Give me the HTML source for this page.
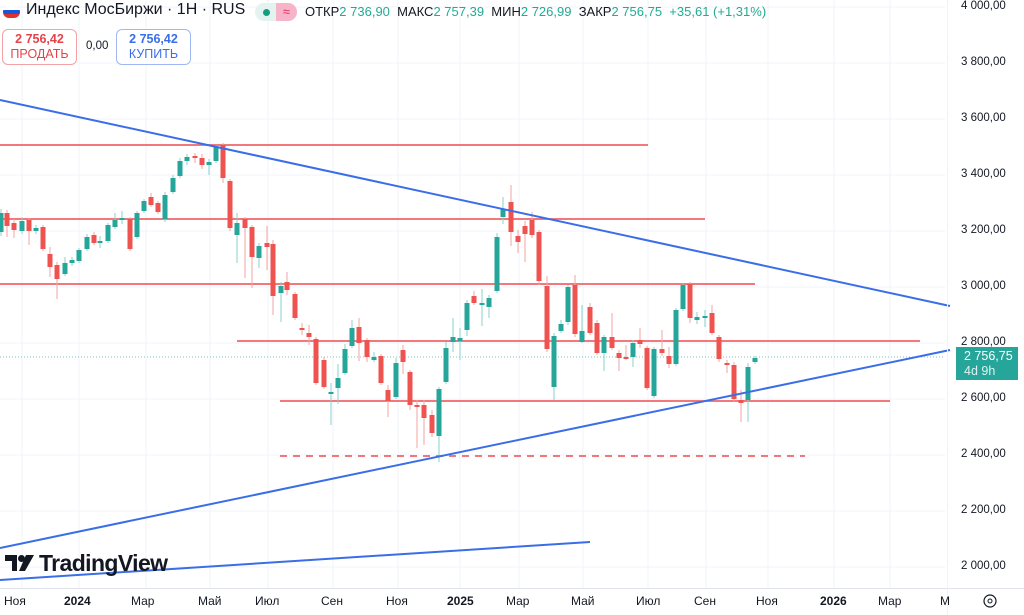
<!DOCTYPE html>
<html><head><meta charset="utf-8"><style>
body{margin:0;width:1024px;height:615px;overflow:hidden;background:#fff;font-family:"Liberation Sans",sans-serif;position:relative}
.ax{position:absolute;font-size:11.5px;color:#131722}
.t{position:absolute;top:594px;font-size:12px;color:#131722}
.b{font-weight:bold}
</style></head><body>
<svg width="1024" height="615" style="position:absolute;left:0;top:0">
<g stroke="#f0f3fa" stroke-width="1">
<line x1="0" y1="7" x2="945" y2="7"/><line x1="0" y1="63" x2="945" y2="63"/><line x1="0" y1="119" x2="945" y2="119"/><line x1="0" y1="175" x2="945" y2="175"/><line x1="0" y1="231" x2="945" y2="231"/><line x1="0" y1="287" x2="945" y2="287"/><line x1="0" y1="343" x2="945" y2="343"/><line x1="0" y1="399" x2="945" y2="399"/><line x1="0" y1="455" x2="945" y2="455"/><line x1="0" y1="511" x2="945" y2="511"/><line x1="0" y1="567" x2="945" y2="567"/>
<line x1="22" y1="0" x2="22" y2="588"/><line x1="79" y1="0" x2="79" y2="588"/><line x1="146" y1="0" x2="146" y2="588"/><line x1="210" y1="0" x2="210" y2="588"/><line x1="268" y1="0" x2="268" y2="588"/><line x1="333" y1="0" x2="333" y2="588"/><line x1="398" y1="0" x2="398" y2="588"/><line x1="460" y1="0" x2="460" y2="588"/><line x1="519" y1="0" x2="519" y2="588"/><line x1="583" y1="0" x2="583" y2="588"/><line x1="648" y1="0" x2="648" y2="588"/><line x1="706" y1="0" x2="706" y2="588"/><line x1="768" y1="0" x2="768" y2="588"/><line x1="834" y1="0" x2="834" y2="588"/><line x1="890" y1="0" x2="890" y2="588"/>
</g>
<line x1="0" y1="357" x2="945" y2="357" stroke="#26a69a" stroke-width="1" stroke-dasharray="1,2" opacity="0.6"/>
<g stroke="#f0646a" stroke-width="1.8">
<line x1="0" y1="145" x2="648" y2="145"/><line x1="0" y1="219" x2="705" y2="219"/><line x1="0" y1="284" x2="755" y2="284"/><line x1="237" y1="341" x2="920" y2="341"/><line x1="280" y1="401" x2="890" y2="401"/><line x1="280" y1="456" x2="805" y2="456" stroke-dasharray="7,6"/>
</g>
<g stroke="#88d1c9" stroke-width="1">
<line x1="1" y1="209" x2="1" y2="236"/><line x1="22" y1="217" x2="22" y2="234"/><line x1="36" y1="225" x2="36" y2="234"/><line x1="65" y1="257" x2="65" y2="276"/><line x1="72" y1="257" x2="72" y2="266"/><line x1="79" y1="248" x2="79" y2="263"/><line x1="87" y1="234" x2="87" y2="251"/><line x1="100" y1="236" x2="100" y2="248"/><line x1="108" y1="223" x2="108" y2="243"/><line x1="115" y1="213" x2="115" y2="229"/><line x1="122" y1="211" x2="122" y2="224"/><line x1="137" y1="211" x2="137" y2="239"/><line x1="144" y1="199" x2="144" y2="213"/><line x1="165" y1="192" x2="165" y2="222"/><line x1="173" y1="175" x2="173" y2="194"/><line x1="180" y1="158" x2="180" y2="178"/><line x1="187" y1="154" x2="187" y2="165"/><line x1="209" y1="159" x2="209" y2="175"/><line x1="216" y1="145" x2="216" y2="163"/><line x1="237" y1="213" x2="237" y2="263"/><line x1="259" y1="243" x2="259" y2="268"/><line x1="281" y1="282" x2="281" y2="322"/><line x1="331" y1="383" x2="331" y2="425"/><line x1="338" y1="364" x2="338" y2="404"/><line x1="345" y1="344" x2="345" y2="375"/><line x1="352" y1="320" x2="352" y2="348"/><line x1="374" y1="352" x2="374" y2="362"/><line x1="396" y1="358" x2="396" y2="399"/><line x1="439" y1="387" x2="439" y2="462"/><line x1="446" y1="342" x2="446" y2="384"/><line x1="453" y1="318" x2="453" y2="352"/><line x1="460" y1="328" x2="460" y2="360"/><line x1="467" y1="300" x2="467" y2="336"/><line x1="482" y1="289" x2="482" y2="326"/><line x1="489" y1="295" x2="489" y2="318"/><line x1="497" y1="233" x2="497" y2="293"/><line x1="503" y1="197" x2="503" y2="224"/><line x1="554" y1="333" x2="554" y2="400"/><line x1="561" y1="320" x2="561" y2="333"/><line x1="568" y1="285" x2="568" y2="325"/><line x1="582" y1="305" x2="582" y2="343"/><line x1="604" y1="335" x2="604" y2="371"/><line x1="633" y1="340" x2="633" y2="367"/><line x1="654" y1="347" x2="654" y2="398"/><line x1="676" y1="308" x2="676" y2="366"/><line x1="683" y1="283" x2="683" y2="311"/><line x1="697" y1="312" x2="697" y2="324"/><line x1="705" y1="310" x2="705" y2="327"/><line x1="748" y1="363" x2="748" y2="422"/><line x1="755" y1="356" x2="755" y2="364"/>
</g>
<g stroke="#f5a3a3" stroke-width="1">
<line x1="7" y1="210" x2="7" y2="237"/><line x1="14" y1="219" x2="14" y2="238"/><line x1="29" y1="218" x2="29" y2="245"/><line x1="43" y1="225" x2="43" y2="251"/><line x1="50" y1="247" x2="50" y2="277"/><line x1="57" y1="262" x2="57" y2="299"/><line x1="94" y1="232" x2="94" y2="245"/><line x1="130" y1="217" x2="130" y2="251"/><line x1="151" y1="193" x2="151" y2="207"/><line x1="158" y1="201" x2="158" y2="214"/><line x1="195" y1="153" x2="195" y2="163"/><line x1="202" y1="154" x2="202" y2="169"/><line x1="223" y1="143" x2="223" y2="183"/><line x1="230" y1="179" x2="230" y2="231"/><line x1="245" y1="217" x2="245" y2="278"/><line x1="252" y1="225" x2="252" y2="288"/><line x1="267" y1="226" x2="267" y2="270"/><line x1="273" y1="240" x2="273" y2="315"/><line x1="287" y1="272" x2="287" y2="295"/><line x1="295" y1="292" x2="295" y2="320"/><line x1="302" y1="323" x2="302" y2="335"/><line x1="309" y1="325" x2="309" y2="345"/><line x1="316" y1="337" x2="316" y2="385"/><line x1="324" y1="357" x2="324" y2="389"/><line x1="359" y1="318" x2="359" y2="361"/><line x1="367" y1="338" x2="367" y2="362"/><line x1="381" y1="354" x2="381" y2="385"/><line x1="388" y1="385" x2="388" y2="417"/><line x1="403" y1="345" x2="403" y2="374"/><line x1="410" y1="370" x2="410" y2="410"/><line x1="417" y1="400" x2="417" y2="448"/><line x1="424" y1="400" x2="424" y2="445"/><line x1="432" y1="410" x2="432" y2="437"/><line x1="474" y1="291" x2="474" y2="305"/><line x1="511" y1="185" x2="511" y2="246"/><line x1="518" y1="230" x2="518" y2="253"/><line x1="525" y1="221" x2="525" y2="262"/><line x1="532" y1="212" x2="532" y2="238"/><line x1="539" y1="230" x2="539" y2="285"/><line x1="547" y1="276" x2="547" y2="352"/><line x1="575" y1="275" x2="575" y2="337"/><line x1="590" y1="303" x2="590" y2="335"/><line x1="597" y1="320" x2="597" y2="355"/><line x1="612" y1="313" x2="612" y2="350"/><line x1="619" y1="350" x2="619" y2="371"/><line x1="626" y1="345" x2="626" y2="360"/><line x1="640" y1="328" x2="640" y2="348"/><line x1="647" y1="346" x2="647" y2="390"/><line x1="662" y1="330" x2="662" y2="356"/><line x1="669" y1="347" x2="669" y2="368"/><line x1="690" y1="282" x2="690" y2="323"/><line x1="712" y1="305" x2="712" y2="335"/><line x1="719" y1="335" x2="719" y2="362"/><line x1="727" y1="360" x2="727" y2="373"/><line x1="734" y1="362" x2="734" y2="402"/><line x1="741" y1="390" x2="741" y2="422"/>
</g>
<g fill="#26a69a">
<rect x="-1.5" y="213" width="5" height="19"/><rect x="19.5" y="221" width="5" height="10"/><rect x="33.5" y="228" width="5" height="3"/><rect x="62.5" y="263" width="5" height="11"/><rect x="69.5" y="260" width="5" height="3"/><rect x="76.5" y="250" width="5" height="11"/><rect x="84.5" y="237" width="5" height="12"/><rect x="97.5" y="241" width="5" height="2"/><rect x="105.5" y="225" width="5" height="16"/><rect x="112.5" y="220" width="5" height="7"/><rect x="119.5" y="218" width="5" height="2"/><rect x="134.5" y="213" width="5" height="24"/><rect x="141.5" y="201" width="5" height="10"/><rect x="162.5" y="195" width="5" height="24"/><rect x="170.5" y="178" width="5" height="14"/><rect x="177.5" y="161" width="5" height="15"/><rect x="184.5" y="157" width="5" height="4"/><rect x="206.5" y="162" width="5" height="3"/><rect x="213.5" y="147" width="5" height="14"/><rect x="234.5" y="223" width="5" height="12"/><rect x="256.5" y="246" width="5" height="12"/><rect x="278.5" y="286" width="5" height="7"/><rect x="328.5" y="392" width="5" height="2"/><rect x="335.5" y="378" width="5" height="10"/><rect x="342.5" y="349" width="5" height="24"/><rect x="349.5" y="328" width="5" height="18"/><rect x="371.5" y="357" width="5" height="3"/><rect x="393.5" y="363" width="5" height="34"/><rect x="436.5" y="389" width="5" height="47"/><rect x="443.5" y="348" width="5" height="34"/><rect x="450.5" y="337" width="5" height="5"/><rect x="457.5" y="338" width="5" height="3"/><rect x="464.5" y="303" width="5" height="27"/><rect x="479.5" y="303" width="5" height="2"/><rect x="486.5" y="298" width="5" height="9"/><rect x="494.5" y="237" width="5" height="54"/><rect x="500.5" y="209" width="5" height="8"/><rect x="551.5" y="336" width="5" height="51"/><rect x="558.5" y="324" width="5" height="7"/><rect x="565.5" y="287" width="5" height="35"/><rect x="579.5" y="331" width="5" height="11"/><rect x="601.5" y="337" width="5" height="16"/><rect x="630.5" y="343" width="5" height="14"/><rect x="651.5" y="349" width="5" height="47"/><rect x="673.5" y="310" width="5" height="54"/><rect x="680.5" y="285" width="5" height="24"/><rect x="694.5" y="317" width="5" height="3"/><rect x="702.5" y="316" width="5" height="2"/><rect x="745.5" y="367" width="5" height="33"/><rect x="752.5" y="358" width="5" height="4"/>
</g>
<g fill="#ef5350">
<rect x="4.5" y="213" width="5" height="13"/><rect x="11.5" y="223" width="5" height="7"/><rect x="26.5" y="220" width="5" height="11"/><rect x="40.5" y="227" width="5" height="22"/><rect x="47.5" y="254" width="5" height="13"/><rect x="54.5" y="265" width="5" height="14"/><rect x="91.5" y="235" width="5" height="8"/><rect x="127.5" y="219" width="5" height="30"/><rect x="148.5" y="197" width="5" height="8"/><rect x="155.5" y="203" width="5" height="9"/><rect x="192.5" y="156" width="5" height="2"/><rect x="199.5" y="158" width="5" height="7"/><rect x="220.5" y="145" width="5" height="33"/><rect x="227.5" y="181" width="5" height="47"/><rect x="242.5" y="219" width="5" height="9"/><rect x="249.5" y="227" width="5" height="30"/><rect x="264.5" y="243" width="5" height="4"/><rect x="270.5" y="244" width="5" height="52"/><rect x="284.5" y="282" width="5" height="8"/><rect x="292.5" y="294" width="5" height="24"/><rect x="299.5" y="328" width="5" height="2"/><rect x="306.5" y="333" width="5" height="4"/><rect x="313.5" y="339" width="5" height="44"/><rect x="321.5" y="360" width="5" height="27"/><rect x="356.5" y="327" width="5" height="16"/><rect x="364.5" y="340" width="5" height="17"/><rect x="378.5" y="356" width="5" height="27"/><rect x="385.5" y="390" width="5" height="11"/><rect x="400.5" y="350" width="5" height="12"/><rect x="407.5" y="372" width="5" height="33"/><rect x="414.5" y="405" width="5" height="2"/><rect x="421.5" y="405" width="5" height="13"/><rect x="429.5" y="415" width="5" height="18"/><rect x="471.5" y="296" width="5" height="7"/><rect x="508.5" y="202" width="5" height="30"/><rect x="515.5" y="236" width="5" height="6"/><rect x="522.5" y="226" width="5" height="8"/><rect x="529.5" y="220" width="5" height="15"/><rect x="536.5" y="232" width="5" height="49"/><rect x="544.5" y="286" width="5" height="63"/><rect x="572.5" y="285" width="5" height="49"/><rect x="587.5" y="307" width="5" height="26"/><rect x="594.5" y="323" width="5" height="30"/><rect x="609.5" y="337" width="5" height="11"/><rect x="616.5" y="353" width="5" height="5"/><rect x="623.5" y="357" width="5" height="2"/><rect x="637.5" y="340" width="5" height="4"/><rect x="644.5" y="348" width="5" height="40"/><rect x="659.5" y="349" width="5" height="4"/><rect x="666.5" y="356" width="5" height="8"/><rect x="687.5" y="284" width="5" height="34"/><rect x="709.5" y="313" width="5" height="20"/><rect x="716.5" y="337" width="5" height="22"/><rect x="724.5" y="363" width="5" height="2"/><rect x="731.5" y="365" width="5" height="34"/><rect x="738.5" y="400" width="5" height="3"/>
</g>
<g stroke="#3a6ee8" stroke-width="2">
<line x1="0" y1="100" x2="950" y2="306"/>
<line x1="0" y1="548" x2="950" y2="350"/>
<line x1="0" y1="580" x2="590" y2="542"/>
</g>
<line x1="0" y1="588.5" x2="1024" y2="588.5" stroke="#e0e3eb"/>
<line x1="947.5" y1="0" x2="947.5" y2="615" stroke="#f0f3fa"/>
<g transform="translate(5,554)" fill="#131722">
<path d="M0 1h12v16h-5v-10h-7z"/><circle cx="16.5" cy="4.5" r="3.5"/><path d="M21 1h8l-9 16h-6z"/>
</g>
<text x="39" y="571" font-family="Liberation Sans" font-size="23" font-weight="bold" fill="#131722" letter-spacing="-0.6">TradingView</text>
<circle cx="990" cy="601" r="6" fill="none" stroke="#131722" stroke-width="1.2"/><circle cx="990" cy="601" r="2" fill="none" stroke="#131722"/>
</svg>
<div style="position:absolute;left:3px;top:6px;width:17px;height:12px;border-radius:6px;overflow:hidden"><div style="height:4px;background:#fff;border:0"></div><div style="height:4px;background:#1a56db"></div><div style="height:4px;background:#e0312b"></div></div>
<div style="position:absolute;left:26px;top:1px;font-size:16px;color:#131722">Индекс МосБиржи · 1H · RUS</div>
<div style="position:absolute;left:255px;top:3px;width:42px;height:18px;border-radius:9px;background:#e3f3f0;overflow:hidden"><div style="position:absolute;left:8px;top:6px;width:7px;height:7px;border-radius:50%;background:#1a9b80"></div><div style="position:absolute;left:21px;top:0;width:21px;height:18px;background:#f7b3c7;color:#e0306a;font-size:13px;text-align:center;line-height:18px">≈</div></div>
<div style="position:absolute;left:305px;top:4px;font-size:13px;color:#131722;white-space:nowrap">ОТКР<span style="color:#22ab94">2 736,90</span> &nbsp;МАКС<span style="color:#22ab94">2 757,39</span> &nbsp;МИН<span style="color:#22ab94">2 726,99</span> &nbsp;ЗАКР<span style="color:#22ab94">2 756,75 &nbsp;+35,61 (+1,31%)</span></div>
<div style="position:absolute;left:2px;top:29px;width:75px;height:36px;border:1px solid #f3a2a6;border-radius:6px;background:#fff;text-align:center;color:#e5434b;font-size:12.5px;line-height:15px;padding-top:2px;box-sizing:border-box"><b>2 756,42</b><br>ПРОДАТЬ</div>
<div style="position:absolute;left:86px;top:40px;font-size:11.5px;color:#131722">0,00</div>
<div style="position:absolute;left:116px;top:29px;width:75px;height:36px;border:1px solid #9fb8f3;border-radius:6px;background:#fff;text-align:center;color:#3a6ee8;font-size:12.5px;line-height:15px;padding-top:2px;box-sizing:border-box"><b>2 756,42</b><br>КУПИТЬ</div>
<div class="ax" style="left:961px;top:0px">4 000,00</div>
<div class="ax" style="left:961px;top:56px">3 800,00</div>
<div class="ax" style="left:961px;top:112px">3 600,00</div>
<div class="ax" style="left:961px;top:168px">3 400,00</div>
<div class="ax" style="left:961px;top:224px">3 200,00</div>
<div class="ax" style="left:961px;top:280px">3 000,00</div>
<div class="ax" style="left:961px;top:336px">2 800,00</div>
<div class="ax" style="left:961px;top:392px">2 600,00</div>
<div class="ax" style="left:961px;top:448px">2 400,00</div>
<div class="ax" style="left:961px;top:504px">2 200,00</div>
<div class="ax" style="left:961px;top:560px">2 000,00</div>
<div style="position:absolute;left:956px;top:347px;width:62px;height:33px;background:#26a69a;color:#fff;font-size:12.5px;line-height:15px;padding:2px 0 0 8px;box-sizing:border-box">2 756,75<br><span style="opacity:.85">4d 9h</span></div>
<div class="t" style="left:4px">Ноя</div><div class="t b" style="left:64px">2024</div><div class="t" style="left:131px">Мар</div><div class="t" style="left:198px">Май</div><div class="t" style="left:255px">Июл</div><div class="t" style="left:321px">Сен</div><div class="t" style="left:386px">Ноя</div><div class="t b" style="left:447px">2025</div><div class="t" style="left:506px">Мар</div><div class="t" style="left:571px">Май</div><div class="t" style="left:636px">Июл</div><div class="t" style="left:694px">Сен</div><div class="t" style="left:756px">Ноя</div><div class="t b" style="left:820px">2026</div><div class="t" style="left:878px">Мар</div><div class="t" style="left:940px;width:10px;overflow:hidden">Май</div>
</body></html>
